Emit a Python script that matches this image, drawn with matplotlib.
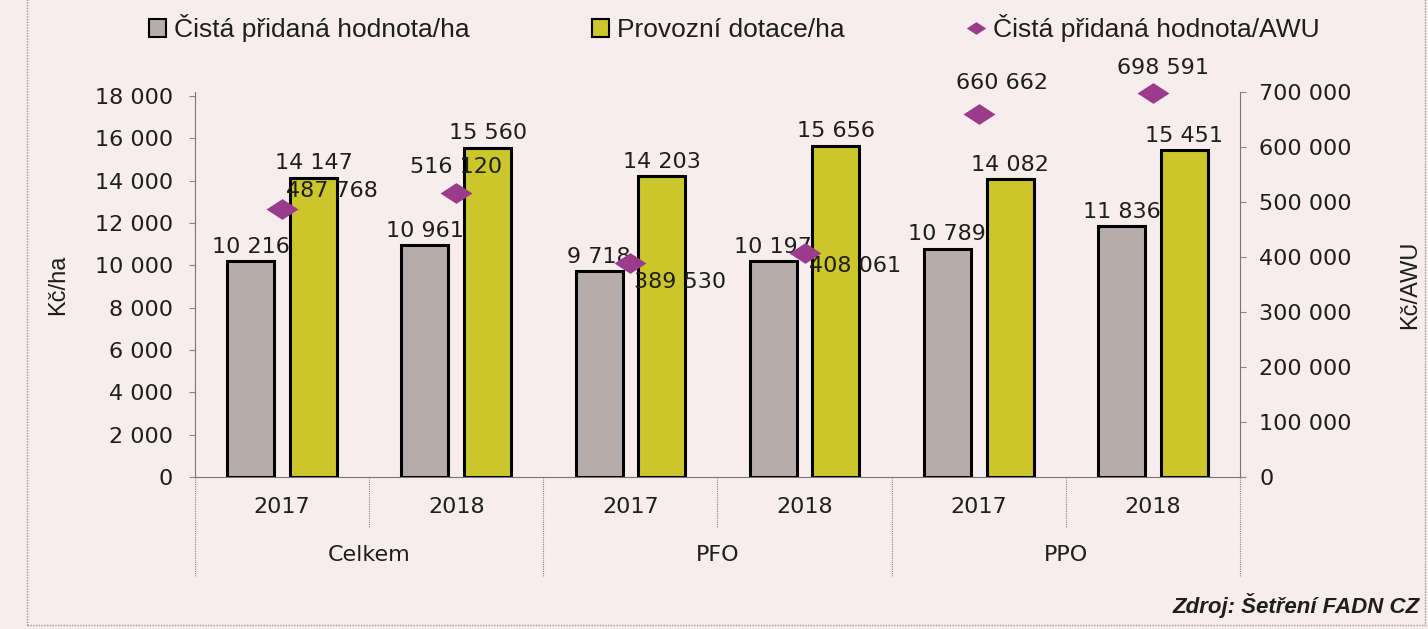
import numpy as np
import matplotlib.pyplot as plt
from matplotlib.patches import Patch, Rectangle
from matplotlib.lines import Line2D

# data
groups = ["Celkem", "PFO", "PPO"]
years = ["2017", "2018"]
cph_ha = [10216, 10961, 9718, 10197, 10789, 11836]
dotace_ha = [14147, 15560, 14203, 15656, 14082, 15451]
cph_awu = [487768, 516120, 389530, 408061, 660662, 698591]

# offsets of the AWU labels from their markers (points)
awu_offsets = [(36, 13), (0, 19), (36, -14), (36, -10), (17, 22), (7, 18)]

BG = "#f7eded"
GRAY = "#b6acaa"
YELLOW = "#cbc62c"
PURPLE = "#9b3b8b"
TXT = "#1e1e1e"
FS = 16
NARROW = ["Liberation Sans Narrow", "Liberation Sans", "DejaVu Sans"]


def fmt(v):
    return f"{v:,}".replace(",", " ")


fig = plt.figure(figsize=(14.28, 6.29), dpi=100, facecolor=BG)
ax = fig.add_axes([195 / 1428, 1 - 477 / 629, (1240 - 195) / 1428, 385 / 629])
ax.set_facecolor(BG)
ax2 = ax.twinx()

x = np.arange(len(cph_ha))
w = 0.27
off = 0.18

ax.bar(x - off, cph_ha, w, color=GRAY, edgecolor="black", linewidth=2.2, zorder=2)
ax.bar(x + off, dotace_ha, w, color=YELLOW, edgecolor="black", linewidth=2.2, zorder=2)

for xi, v in zip(x, cph_ha):
    ax.annotate(fmt(v), (xi - off, v), xytext=(0, 3), textcoords="offset points",
                ha="center", va="bottom", fontsize=FS, color=TXT, zorder=5)
for xi, v in zip(x, dotace_ha):
    ax.annotate(fmt(v), (xi + off, v), xytext=(0, 3), textcoords="offset points",
                ha="center", va="bottom", fontsize=FS, color=TXT, zorder=5)

diamond = [(-1, 0), (0, 0.65), (1, 0), (0, -0.65), (-1, 0)]
ax2.plot(x, cph_awu, linestyle="none", marker=diamond, markersize=23,
         color=PURPLE, markeredgewidth=0, zorder=4, clip_on=False)
for xi, v, (dx, dy) in zip(x, cph_awu, awu_offsets):
    ax2.annotate(fmt(v), (xi, v), xytext=(dx, dy), textcoords="offset points",
                 ha="center", va="center", fontsize=FS, color=TXT, zorder=5)

ax.set_xlim(-0.5, len(x) - 0.5)
ax.set_ylim(0, 18000 * 385 / 381)
ax2.set_ylim(0, 700000)
ax.set_yticks(np.arange(0, 18001, 2000))
ax.set_yticklabels([fmt(v) for v in range(0, 18001, 2000)])
ax2.set_yticks(np.arange(0, 700001, 100000))
ax2.set_yticklabels([fmt(v) for v in range(0, 700001, 100000)])
ax.set_xticks([])

for a in (ax, ax2):
    for s in a.spines.values():
        s.set_visible(False)
ax.spines["left"].set_visible(True)
ax.spines["bottom"].set_visible(True)
ax2.spines["right"].set_visible(True)
for s in (ax.spines["left"], ax.spines["bottom"], ax2.spines["right"]):
    s.set_color("#777777")
    s.set_linewidth(0.8)
    s.set_linestyle((0, (1, 1)))

ax.tick_params(axis="y", labelsize=FS, colors="#888888", labelcolor=TXT, length=4, pad=12)
ax2.tick_params(axis="y", labelsize=FS, colors="#888888", labelcolor=TXT, length=4, pad=10)

ax.set_ylabel("Kč/ha", fontsize=17, family=NARROW, color=TXT, labelpad=18)
ax2.set_ylabel("Kč/AWU", fontsize=17, family=NARROW, color=TXT, labelpad=34)

# category axis: years and groups with separators below the plot
trans = ax.get_xaxis_transform()
for i, xi in enumerate(x):
    ax.text(xi, -30 / 385, years[i % 2], transform=trans, ha="center", va="center",
            fontsize=FS, color=TXT)
for g, name in enumerate(groups):
    ax.text(2 * g + 0.5, -78 / 385, name, transform=trans, ha="center", va="center",
            fontsize=FS, color=TXT)
for b in np.arange(-0.5, len(x), 1.0):
    is_group = int(b + 0.5) % 2 == 0
    bottom = -100 / 385 if is_group else -50 / 385
    ax.plot([b, b], [0, bottom], transform=trans, color="#888888", lw=0.8,
            linestyle=(0, (1, 1)), clip_on=False)

# legend
handles = [
    Patch(facecolor=GRAY, edgecolor="black", linewidth=1.5, label="Čistá přidaná hodnota/ha"),
    Patch(facecolor=YELLOW, edgecolor="black", linewidth=1.5, label="Provozní dotace/ha"),
    Line2D([], [], linestyle="none", marker=diamond, markersize=14, color=PURPLE,
           markeredgewidth=0, label="Čistá přidaná hodnota/AWU"),
]
fig.legend(handles=handles, loc="center left", bbox_to_anchor=(125 / 1428, 1 - 28 / 629),
           ncol=3, frameon=False, handlelength=0.65, handleheight=0.65, handletextpad=0.3,
           columnspacing=4.65, prop={"family": NARROW, "size": 19},
           labelcolor=TXT)

fig.text(1420 / 1428, 1 - 605 / 629, "Zdroj: Šetření FADN CZ", ha="right", va="center",
         fontsize=16, fontweight="bold", fontstyle="italic",
         family=["Liberation Sans", "DejaVu Sans"], color=TXT)

# page frame
fig.add_artist(Rectangle((27 / 1428, 4 / 629), 1398 / 1428, 700 / 629, transform=fig.transFigure,
                         fill=False, edgecolor="#999999", lw=1.0, linestyle=(0, (1, 1))))

fig.savefig("out.png", dpi=100, facecolor=BG)
